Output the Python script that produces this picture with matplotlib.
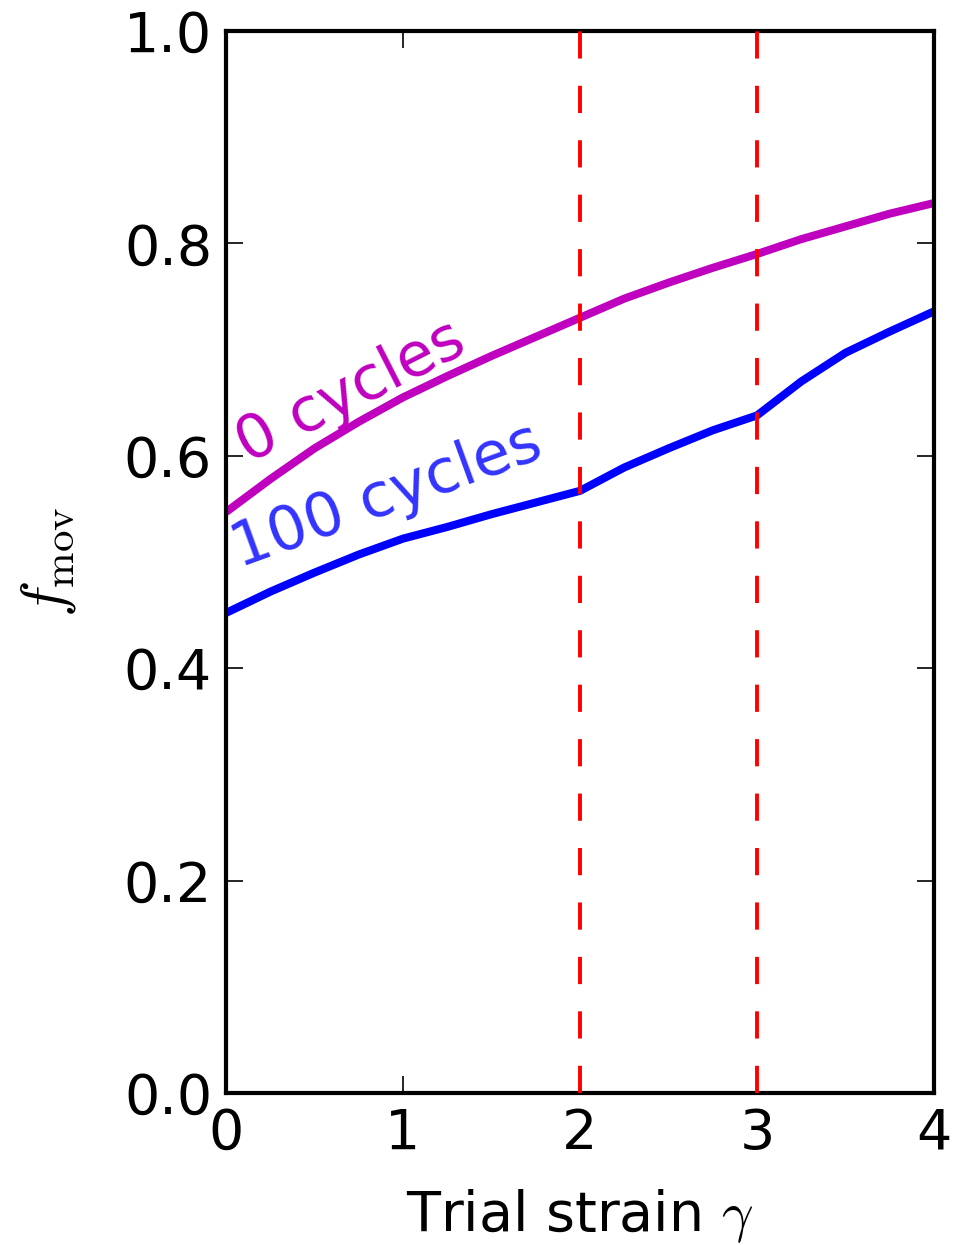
import matplotlib
matplotlib.use("Agg")
import matplotlib.pyplot as plt

# Fraction of mobile particles versus trial strain
strain = [0.0, 0.25, 0.5, 0.75, 1.0, 1.25, 1.5, 1.75, 2.0,
          2.25, 2.5, 2.75, 3.0, 3.25, 3.5, 3.75, 4.0]
f_mov_0 = [0.547, 0.578, 0.607, 0.632, 0.655, 0.675, 0.694, 0.712, 0.730,
           0.748, 0.763, 0.777, 0.790, 0.804, 0.816, 0.828, 0.838]
f_mov_100 = [0.452, 0.472, 0.490, 0.507, 0.522, 0.533, 0.545, 0.556, 0.567,
             0.589, 0.607, 0.624, 0.638, 0.670, 0.697, 0.717, 0.736]
training_strains = [2, 3]
x_ticks = [0, 1, 2, 3, 4]
y_ticks = [0.0, 0.2, 0.4, 0.6, 0.8, 1.0]

plt.rcParams["mathtext.fontset"] = "cm"
plt.rcParams["font.family"] = "DejaVu Sans"

fig = plt.figure(figsize=(9.69, 12.45), dpi=100)
ax = fig.add_axes([0.2332, 0.1221, 0.9639 - 0.2332, 0.9751 - 0.1221])

ax.plot(strain, f_mov_0, color=(0.75, 0, 0.75), lw=5.8, solid_capstyle="butt")
ax.plot(strain, f_mov_100, color=(0, 0, 1), lw=5.8, solid_capstyle="butt")
for s in training_strains:
    ax.axvline(s, color="red", lw=2.8, dashes=(7, 7), zorder=3)

ax.text(0.125, 0.593, "0 cycles", color=(0.75, 0, 0.75), fontsize=44,
        rotation=27, rotation_mode="anchor", ha="left", va="baseline")
ax.text(0.075, 0.495, "100 cycles", color=(0.2, 0.2, 1), fontsize=44,
        rotation=20, rotation_mode="anchor", ha="left", va="baseline")

ax.set_xlim(0, 4)
ax.set_ylim(0, 1)
ax.set_xticks(x_ticks)
ax.set_yticks(y_ticks)
ax.set_xticklabels([str(t) for t in x_ticks])
ax.set_yticklabels([f"{t:.1f}" for t in y_ticks])
ax.tick_params(direction="in", length=12, width=1.2, labelsize=40,
               top=True, right=True, pad=10)
for sp in ax.spines.values():
    sp.set_linewidth(3)

ax.set_xlabel(r"Trial strain $\gamma$", fontsize=40, labelpad=19)
ax.set_ylabel(r"$f_{\rm mov}$", fontsize=44, labelpad=33)

fig.savefig("out.png", dpi=100)
